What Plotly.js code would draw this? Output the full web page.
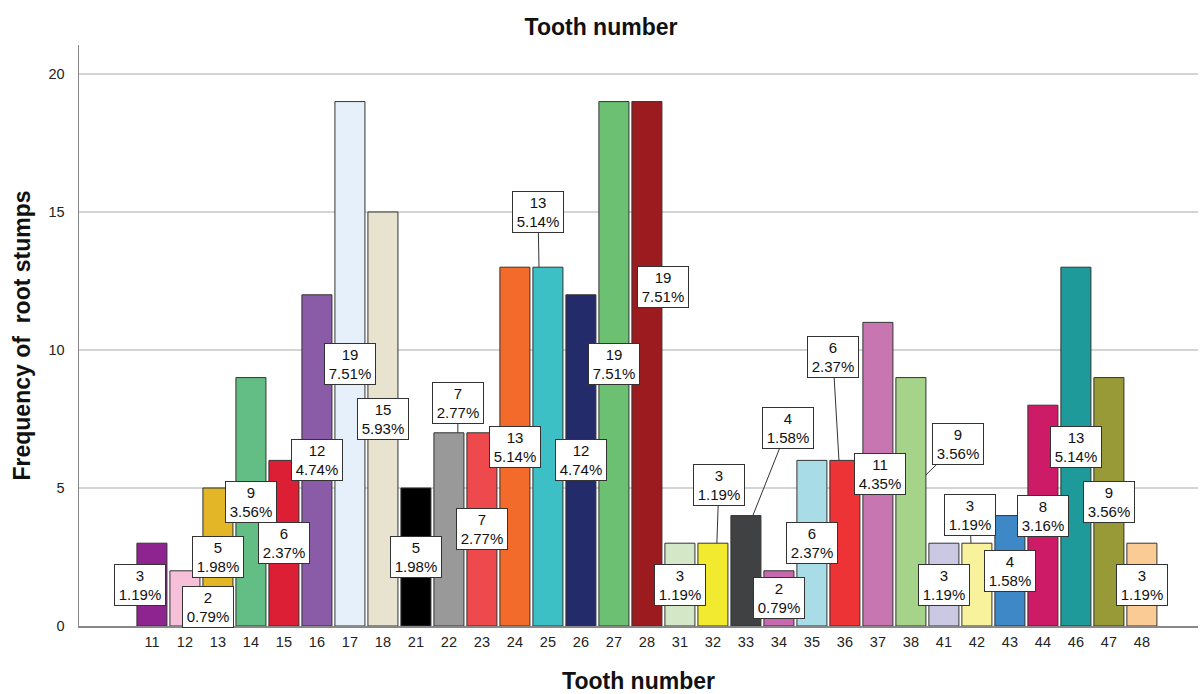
<!DOCTYPE html>
<html>
<head>
<meta charset="utf-8">
<script src="https://cdn.plot.ly/plotly-3.0.1.min.js"></script>
<style>html,body{margin:0;padding:0;background:#fff;}#chart{width:1202px;height:694px;}</style>
</head>
<body>
<div id="chart"></div>
<script>
// ---- data ----
const teeth = ['11','12','13','14','15','16','17','18','21','22','23','24','25','26','27','28',
               '31','32','33','34','35','36','37','38','41','42','43','44','46','47','48'];
const counts = [3,2,5,9,6,12,19,15, 5,7,7,13,13,12,19,19, 3,3,4,2,6,6,11,9, 3,3,4,8,13,9,3];
const barColors = ['#8E2490','#F7C0D9','#E2B626','#63BE85','#DC1F35','#8A5CA8','#E6F0FA','#E8E3CF',
                   '#000000','#999999','#EE4A4E','#F26B2A','#3CBFC5','#232B6A','#6BC072','#9B1B1F',
                   '#D4E8C8','#F2EA2E','#404142','#C868B0','#A8DDE8','#EE3336','#C876B1','#A6D38A',
                   '#CBC8E4','#F8F29D','#3E88C8','#CE1B67','#1E9A9A','#979A37','#FBCB96'];

// ---- label layout (pixel shifts / leader lines, not data) ----
const labelShift = { '11':[-12,0], '12':[23,-9], '28':[16,77], '37':[2,0] };
// tooth: [head x offset (category units), head y (value units or null = bar top), ax px, ay px]
const leaders = {
  '22':[0.27, null, 0, -30],
  '25':[-0.27, null, -1, -55],
  '32':[0.12, null, 2, -58],
  '33':[0.21, null, 35, -88],
  '36':[-0.18, null, -6, -103],
  '38':[0.45, 5.47, 32, -31],
  '42':[-0.18, null, -1, -28]
};

const total = counts.reduce((a,b)=>a+b,0);

const trace = {
  type:'bar', x: teeth, y: counts,
  marker:{color: barColors, line:{color:'#333333', width:1}},
  hoverinfo:'x+y'
};

const annotations = teeth.map((t,i)=>{
  const txt = counts[i] + '<br>' + (counts[i]/total*100).toFixed(2) + '%';
  const base = {
    text: txt, xref:'x', yref:'y',
    font:{family:'Arial, Liberation Sans, sans-serif', size:15, color:'#111'},
    bgcolor:'#ffffff', bordercolor:'#333333', borderwidth:1, borderpad:2,
    width:46, height:36, align:'center', valign:'middle'
  };
  if (leaders[t]) {
    const L = leaders[t];
    return Object.assign(base, {
      x: i + L[0], y: (L[1] === null ? counts[i] : L[1]),
      showarrow:true, arrowhead:0, arrowwidth:1, arrowcolor:'#333333',
      ax: L[2], ay: L[3], standoff:0
    });
  }
  const s = labelShift[t] || [0,0];
  return Object.assign(base, {
    x: i, y: counts[i]/2, showarrow:false, xshift: s[0], yshift: s[1]
  });
});

const layout = {
  width:1202, height:694,
  margin:{l:79, r:4, t:45, b:68},
  paper_bgcolor:'#ffffff', plot_bgcolor:'#ffffff',
  font:{family:'Arial, Liberation Sans, sans-serif', color:'#222'},
  title:{text:'<b>Tooth number</b>', x:0.5, xref:'container', y:0.961, yref:'container',
         xanchor:'center', yanchor:'middle', font:{size:23, color:'#111'}},
  bargap:0.09,
  showlegend:false,
  xaxis:{
    type:'category', range:[-2.21, 31.7], showgrid:false,
    showline:true, linecolor:'#888888', linewidth:1.5,
    ticks:'', tickfont:{size:14.5, color:'#222'}, ticklabelstandoff:2,
    title:{text:'<b>Tooth number</b>', font:{size:23, color:'#111'}, standoff:28}
  },
  yaxis:{
    range:[0, 21.05], tickvals:[0,5,10,15,20], ticktext:['0','5','10','15','20'],
    showgrid:true, gridcolor:'#d4d4d4', gridwidth:1.5, zeroline:false,
    showline:true, linecolor:'#888888', linewidth:1.5,
    ticks:'', tickfont:{size:14.5, color:'#222'}, ticklabelstandoff:10,
    title:{text:'<b>Frequency of  root stumps</b>', font:{size:23, color:'#111'}, standoff:11}
  },
  annotations: annotations
};

Plotly.newPlot('chart', [trace], layout, {displayModeBar:false, staticPlot:true});
</script>
</body>
</html>
